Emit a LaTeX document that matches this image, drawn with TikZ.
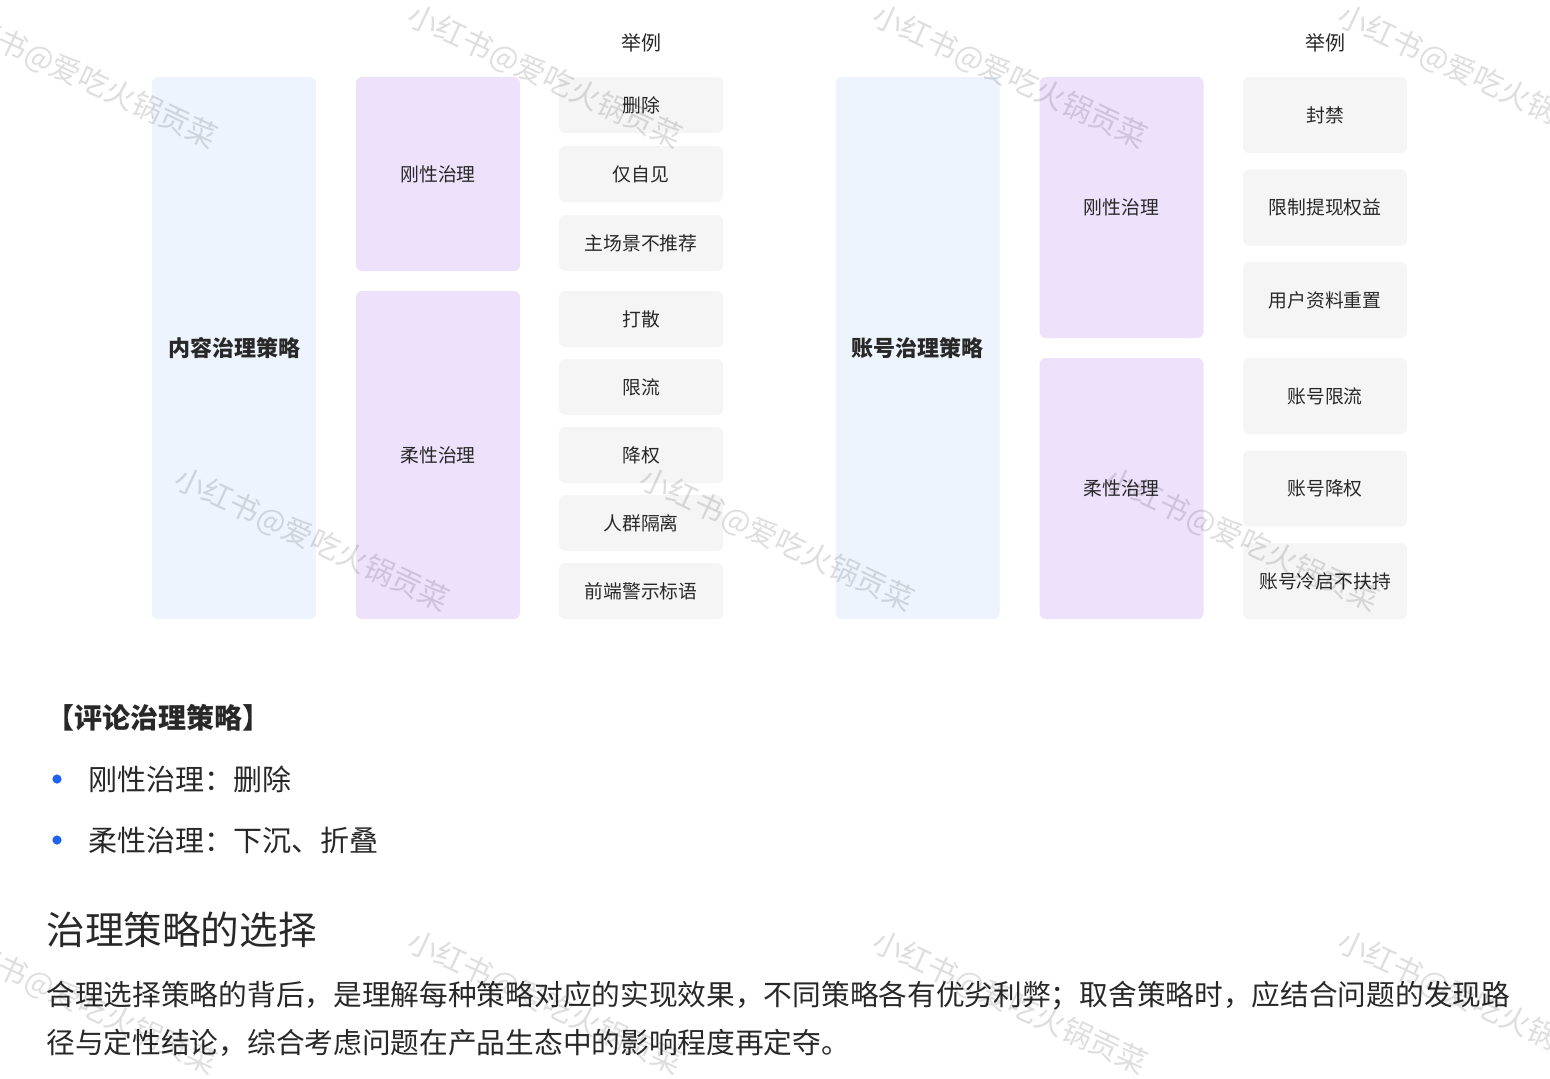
\documentclass[tikz,border=0pt]{standalone}
\usepackage{fontspec}
\setmainfont{Noto Sans CJK SC}
\definecolor{stratblue}{RGB}{238,244,253}
\definecolor{lav}{RGB}{238,225,252}
\definecolor{exgray}{RGB}{245,245,245}
\definecolor{ink}{RGB}{40,40,40}
\definecolor{dotblue}{RGB}{30,98,240}

\begin{document}
\begin{tikzpicture}[x=0.5pt,y=-0.5pt,
  box/.style={rounded corners=3pt, inner sep=0pt, text=ink, font=\fontsize{9.4}{11}\selectfont},
  strat/.style={box, fill=stratblue, minimum width=82pt, minimum height=271pt, font=\fontsize{11}{13}\selectfont\bfseries},
  kind/.style={box, fill=lav, minimum width=82pt},
  ex/.style={box, fill=exgray, minimum width=82pt},
  head/.style={text=ink, inner sep=0pt, font=\fontsize{10}{12}\selectfont},
  txt/.style={anchor=west, inner sep=0pt, text=ink, font=\fontsize{14.5}{17}\selectfont},
  dot/.style={circle, fill=dotblue, inner sep=0pt, minimum size=4.6pt},
  wm/.style={rotate=-25, text=black, opacity=0.13, font=\fontsize{15}{18}\selectfont}]
\useasboundingbox (0,0) rectangle (1550,1078);

% content strategies
\node[head] (ex1) at (641,43) {举例};
\node[strat] (cont) at (234,348) {内容治理策略};
\node[kind, minimum height=97pt] (hard1) at (438,174) {刚性治理};
\node[kind, minimum height=164pt] (soft1) at (438,455) {柔性治理};
\node[ex, minimum height=28pt] (del) at (641,105) {删除};
\node[ex, minimum height=28pt] (self) at (641,174) {仅自见};
\node[ex, minimum height=28pt] (norec) at (641,243) {主场景不推荐};
\node[ex, minimum height=28pt] (scat) at (641,319) {打散};
\node[ex, minimum height=28pt] (lim1) at (641,387) {限流};
\node[ex, minimum height=28pt] (down1) at (641,455) {降权};
\node[ex, minimum height=28pt] (iso) at (641,523) {人群隔离};
\node[ex, minimum height=28pt] (warn) at (641,591) {前端警示标语};

% account strategies
\node[head] (ex2) at (1325,43) {举例};
\node[strat] (acct) at (917.5,348) {账号治理策略};
\node[kind, minimum height=130.5pt] (hard2) at (1121.5,207.5) {刚性治理};
\node[kind, minimum height=130.5pt] (soft2) at (1121.5,488.5) {柔性治理};
\node[ex, minimum height=38pt] (ban) at (1325,115) {封禁};
\node[ex, minimum height=38pt] (cash) at (1325,207.5) {限制提现权益};
\node[ex, minimum height=38pt] (reset) at (1325,300) {用户资料重置};
\node[ex, minimum height=38pt] (lim2) at (1325,396) {账号限流};
\node[ex, minimum height=38pt] (down2) at (1325,488.5) {账号降权};
\node[ex, minimum height=38pt] (cold) at (1325,581) {账号冷启不扶持};

% comments
\node[txt, font=\fontsize{14}{16}\selectfont\bfseries] (cmt) at (46,718) {【评论治理策略】};
\node[dot] (b1) at (57,779) {};
\node[txt] (c1) at (88,779) {刚性治理：删除};
\node[dot] (b2) at (57,840) {};
\node[txt] (c2) at (88,840) {柔性治理：下沉、折叠};

% choice
\node[txt, font=\fontsize{19.3}{23}\selectfont] (title) at (46,930) {治理策略的选择};
\node[txt, font=\fontsize{14.35}{17}\selectfont] (par1) at (46,996) {合理选择策略的背后，是理解每种策略对应的实现效果，不同策略各有优劣利弊；取舍策略时，应结合问题的发现路};
\node[txt, font=\fontsize{14.35}{17}\selectfont] (par2) at (46,1043) {径与定性结论，综合考虑问题在产品生态中的影响程度再定夺。};

% watermark
\foreach \x in {80,545,1010,1475}
  \foreach \y in {77,1003}
    \node[wm] (wm-\x-\y) at (\x,\y) {小红书@爱吃火锅贡菜};
\foreach \x in {312,777,1242}
  \node[wm] (wm-\x) at (\x,540) {小红书@爱吃火锅贡菜};
\end{tikzpicture}
\end{document}
